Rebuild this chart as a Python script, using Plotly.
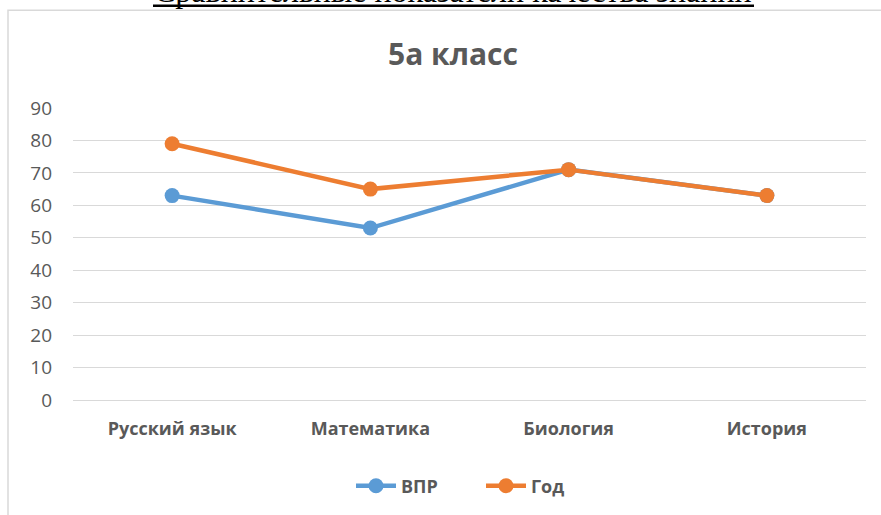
import plotly.graph_objects as go

categories = ["Русский язык", "Математика", "Биология", "История"]
vpr = [63, 53, 71, 63]
god = [79, 65, 71, 63]
y_ticks = [0, 10, 20, 30, 40, 50, 60, 70, 80, 90]

FONT = "'Open Sans', sans-serif"
GREY = "#595959"

fig = go.Figure()
fig.add_trace(go.Scatter(x=categories, y=vpr, name="ВПР", mode="lines+markers",
                         line=dict(color="#5B9BD5", width=4.5),
                         marker=dict(size=15, color="#5B9BD5")))
fig.add_trace(go.Scatter(x=categories, y=god, name="Год", mode="lines+markers",
                         line=dict(color="#ED7D31", width=4.5),
                         marker=dict(size=15, color="#ED7D31")))

W, H = 881, 515
L, R, T, B = 73, 15, 108, 114
pw = W - L - R
ph = H - T - B

def px_x(x):
    return (x - L) / pw

def px_y(y):
    return (H - B - y) / ph

fig.update_layout(
    width=W, height=H,
    margin=dict(l=L, r=R, t=T, b=B),
    paper_bgcolor="white", plot_bgcolor="white",
    showlegend=True,
    legend=dict(orientation="h", x=px_x(351), xanchor="left", y=px_y(486), yanchor="middle",
                font=dict(family=FONT, size=18, color=GREY, weight="bold"),
                itemwidth=40, entrywidth=75, traceorder="normal"),
    xaxis=dict(showgrid=False, showline=False, ticks="", range=[-0.5, 3.5],
               tickfont=dict(family=FONT, size=18, color=GREY, weight="bold"),
               ticklabelstandoff=16),
    yaxis=dict(range=[0, 90], tickvals=y_ticks, showgrid=True, gridcolor="#d9d9d9", gridwidth=1,
               zeroline=True, zerolinecolor="#d9d9d9", zerolinewidth=1, showline=False, ticks="",
               tickfont=dict(family=FONT, size=19, color=GREY), ticklabelstandoff=20),
    annotations=[
        dict(text="<b>5а класс</b>", xref="paper", yref="paper", x=px_x(453), y=px_y(53),
             xanchor="center", yanchor="middle", showarrow=False,
             font=dict(family=FONT, size=30, color=GREY)),
        dict(text="Сравнительные показатели качества знаний", xref="paper", yref="paper",
             x=px_x(453), y=px_y(10.5), xanchor="center", yanchor="bottom", showarrow=False,
             font=dict(family="'Liberation Serif', 'Times New Roman', serif", size=32, color="black")),
    ],
    shapes=[
        dict(type="line", xref="paper", yref="paper", x0=px_x(153), x1=px_x(754), y0=px_y(5.3), y1=px_y(5.3),
             line=dict(color="black", width=2.5)),
        dict(type="rect", xref="paper", yref="paper", x0=px_x(8), x1=px_x(900), y0=px_y(10), y1=px_y(600),
             line=dict(color="#d9d9d9", width=1.5), fillcolor="rgba(0,0,0,0)", layer="below"),
    ],
)

fig.write_html("out.html", config={"displayModeBar": False},
               post_script="document.body.style.margin='0';")
